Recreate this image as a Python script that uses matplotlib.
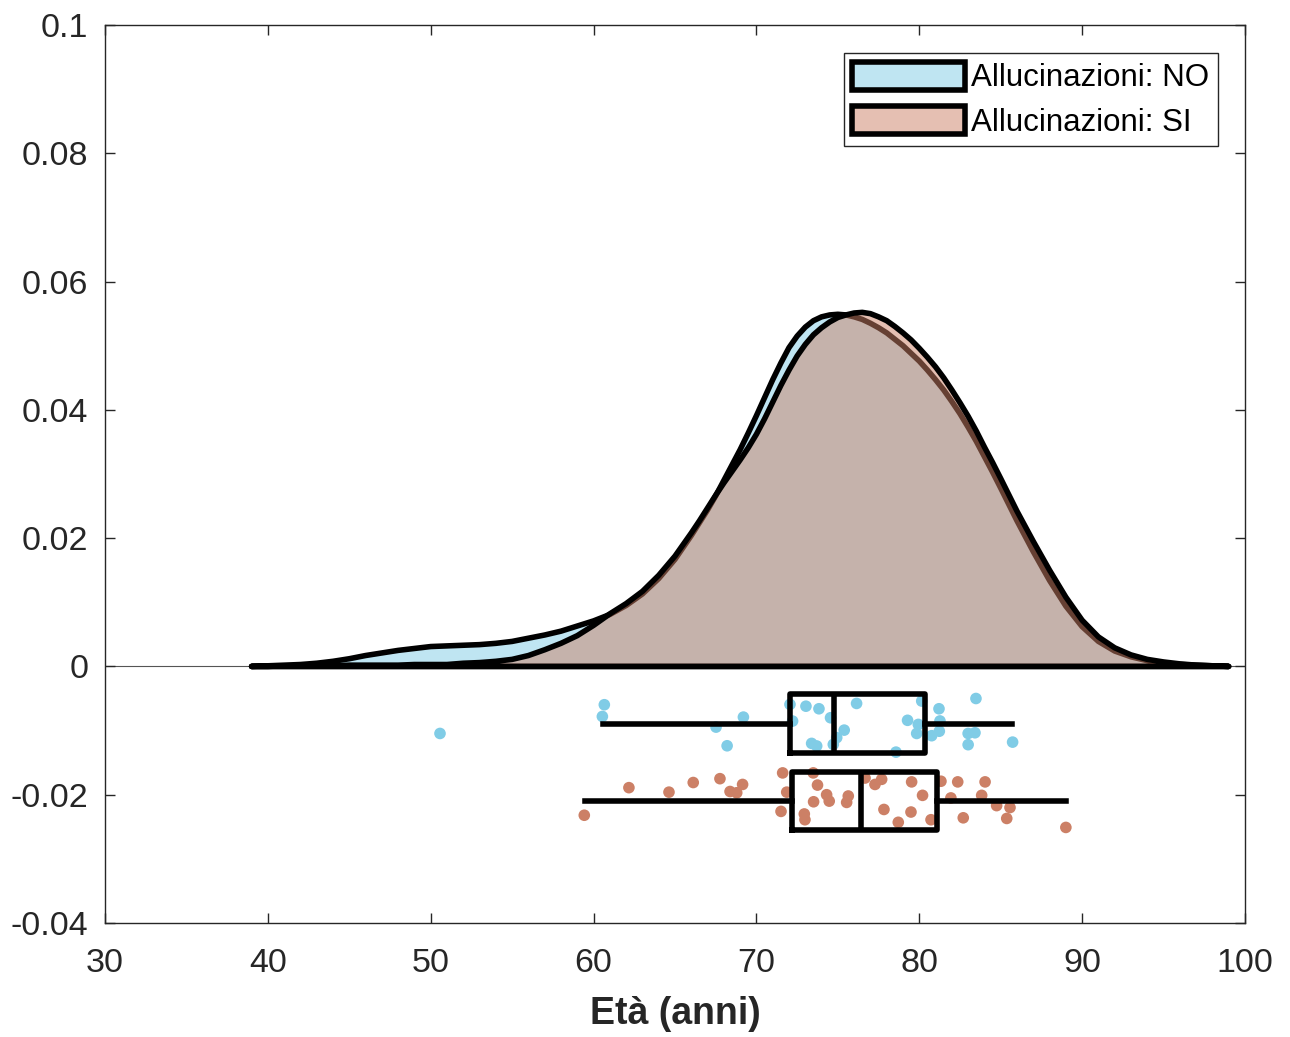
import numpy as np
import matplotlib
matplotlib.use("Agg")
import matplotlib.pyplot as plt

# ---------------- data ----------------
age_grid = [39, 40, 41, 42, 43, 44, 45, 46, 47, 48, 49, 50, 51, 52, 53, 54, 55, 56, 57, 58,
            59, 60, 61, 62, 63, 64, 65, 66,
            66.5, 67, 67.5, 68, 68.5, 69, 69.5, 70, 70.5, 71, 71.5, 72, 72.5, 73, 73.5, 74,
            74.5, 75, 75.5, 76, 76.5, 77, 77.5, 78, 78.5, 79, 79.5, 80, 80.5, 81, 81.5, 82,
            82.5, 83, 83.5, 84, 84.5, 85,
            86, 87, 88, 89, 90, 91, 92, 93, 94, 95, 96, 97, 98, 99]
dens_no = [0.0000, 0.0001, 0.0002, 0.0003, 0.0005, 0.0008, 0.0012, 0.0017, 0.0021, 0.0025,
           0.0028, 0.0031, 0.0032, 0.0033, 0.0034, 0.0036, 0.0039, 0.0044, 0.0049, 0.0055,
           0.0063, 0.0071, 0.0081, 0.0095, 0.0113, 0.0137, 0.0167, 0.0204,
           0.0224, 0.0244, 0.0266, 0.0290, 0.0314, 0.0338, 0.0364, 0.0391, 0.0419, 0.0447,
           0.0473, 0.0497, 0.0515, 0.0529, 0.0539, 0.0545, 0.0548, 0.0549, 0.0548, 0.0545,
           0.0541, 0.0535, 0.0528, 0.0520, 0.0510, 0.0500, 0.0488, 0.0476, 0.0462, 0.0447,
           0.0431, 0.0413, 0.0394, 0.0373, 0.0351, 0.0327, 0.0303, 0.0278,
           0.0227, 0.0179, 0.0134, 0.0094, 0.0062, 0.0039, 0.0024, 0.0015, 0.0009, 0.0005,
           0.0003, 0.0002, 0.0001, 0.0000]
dens_si = [0.0000, 0.0000, 0.0001, 0.0001, 0.0001, 0.0001, 0.0002, 0.0002, 0.0002, 0.0002,
           0.0003, 0.0003, 0.0003, 0.0005, 0.0006, 0.0008, 0.0011, 0.0017, 0.0026, 0.0036,
           0.0048, 0.0064, 0.0082, 0.0098, 0.0117, 0.0142, 0.0172, 0.0208,
           0.0227, 0.0247, 0.0267, 0.0286, 0.0304, 0.0322, 0.0341, 0.0362, 0.0386, 0.0412,
           0.0438, 0.0462, 0.0484, 0.0502, 0.0517, 0.0528, 0.0537, 0.0544, 0.0548, 0.0551,
           0.0552, 0.0550, 0.0545, 0.0539, 0.0530, 0.0520, 0.0509, 0.0496, 0.0482, 0.0467,
           0.0450, 0.0431, 0.0411, 0.0390, 0.0367, 0.0342, 0.0318, 0.0293,
           0.0242, 0.0195, 0.0150, 0.0108, 0.0072, 0.0046, 0.0029, 0.0018, 0.0011, 0.0007,
           0.0004, 0.0002, 0.0001, 0.0000]

no_age = [50.57, 60.66, 60.54, 67.52, 69.20, 68.20, 72.06, 73.04, 73.84, 76.15, 72.22, 74.55,
          75.39, 74.93, 73.39, 73.70, 74.72, 78.57, 79.28, 79.94, 79.84, 80.15, 81.21, 81.27,
          81.23, 80.76, 83.48, 83.00, 83.42, 83.00, 85.73]
no_jit = [-0.01045, -0.00597, -0.00780, -0.00946, -0.00790, -0.01237, -0.00592, -0.00620,
          -0.00660, -0.00577, -0.00852, -0.00800, -0.00993, -0.01110, -0.01200, -0.01240,
          -0.01216, -0.01336, -0.00840, -0.00904, -0.01045, -0.00540, -0.00660, -0.00850,
          -0.01010, -0.01080, -0.00500, -0.01045, -0.01034, -0.01220, -0.01180]

si_age = [59.43, 62.17, 64.63, 66.12, 67.76, 68.38, 68.79, 69.15, 71.61, 71.86, 71.51, 73.75,
          73.51, 72.94, 72.98, 73.49, 74.31, 74.47, 75.64, 75.54, 76.67, 77.28, 77.69, 79.53,
          80.20, 77.83, 79.49, 78.71, 80.72, 81.33, 82.36, 81.94, 84.04, 83.83, 84.75, 85.57,
          82.70, 85.37, 89.00]
si_jit = [-0.0232, -0.0189, -0.0196, -0.0181, -0.0175, -0.0195, -0.0197, -0.0184, -0.0166,
          -0.0196, -0.0226, -0.0185, -0.0211, -0.0230, -0.0239, -0.0166, -0.0200, -0.0210,
          -0.0202, -0.0212, -0.0174, -0.0184, -0.0176, -0.0180, -0.0201, -0.0223, -0.0227,
          -0.0243, -0.0239, -0.0179, -0.0180, -0.0205, -0.0180, -0.0201, -0.0217, -0.0220,
          -0.0236, -0.0237, -0.0251]

# box statistics: whisker low, q1, median, q3, whisker high
box_no = [60.6, 72.06, 74.76, 80.35, 85.7]
box_si = [59.5, 72.2, 76.4, 81.1, 89.0]
box_pos = [-0.0089, -0.0210]

labels = ["Allucinazioni: NO", "Allucinazioni: SI"]
xticks = [30, 40, 50, 60, 70, 80, 90, 100]
yticks = [-0.04, -0.02, 0, 0.02, 0.04, 0.06, 0.08, 0.1]
yticklabels = ["-0.04", "-0.02", "0", "0.02", "0.04", "0.06", "0.08", "0.1"]

# ---------------- style ----------------
plt.rcParams['font.family'] = ['Liberation Sans', 'DejaVu Sans']
c_no = (0.5, 0.8, 0.9)
c_si = (0.8, 0.5, 0.4)
dark = '#262626'
LW = 4.0

fig = plt.figure(figsize=(12.9, 10.37), dpi=100)
ax = fig.add_axes([105 / 1290, 1 - 923 / 1037, 1140 / 1290, 898 / 1037])

ax.axhline(0, color='#555555', lw=0.8, zorder=1)

p_no = ax.fill(age_grid, dens_no, facecolor=c_no + (0.5,), edgecolor='black',
               lw=LW, joinstyle='round', zorder=2, label=labels[0])[0]
p_si = ax.fill(age_grid, dens_si, facecolor=c_si + (0.5,), edgecolor='black',
               lw=LW, joinstyle='round', zorder=3, label=labels[1])[0]

ax.scatter(no_age, no_jit, s=70, color=c_no, edgecolors='none', zorder=4)
ax.scatter(si_age, si_jit, s=70, color=c_si, edgecolors='none', zorder=4)

stats = []
for b in (box_no, box_si):
    stats.append(dict(whislo=b[0], q1=b[1], med=b[2], q3=b[3], whishi=b[4], fliers=[]))
kw = dict(positions=box_pos, widths=0.0091, showcaps=False, showfliers=False,
          patch_artist=False,
          boxprops=dict(color='black', lw=LW),
          whiskerprops=dict(color='black', lw=LW),
          medianprops=dict(color='black', lw=LW),
          manage_ticks=False, zorder=5)
try:
    ax.bxp(stats, orientation='horizontal', **kw)
except TypeError:
    ax.bxp(stats, vert=False, **kw)

ax.set_xlim(30, 100)
ax.set_ylim(-0.04, 0.1)
ax.set_xticks(xticks)
ax.set_xticklabels([str(t) for t in xticks])
ax.set_yticks(yticks)
ax.set_yticklabels(yticklabels)

ax.tick_params(direction='in', length=7, width=1.0, colors=dark, labelsize=24.5,
               top=True, right=True)
ax.tick_params(axis='x', pad=18)
ax.tick_params(axis='y', pad=12)
for s in ax.spines.values():
    s.set_color(dark)
    s.set_linewidth(1.0)

ax.set_xlabel("Età (anni)", fontsize=27, fontweight='bold', color=dark, labelpad=12)

leg = ax.legend(handles=[p_no, p_si], loc='upper right',
                bbox_to_anchor=((1218 - 105) / 1140, (923 - 53) / 898),
                borderaxespad=0, fontsize=22.5, handlelength=3.6, handleheight=1.0,
                handletextpad=0.2, labelspacing=0.4, borderpad=0.28,
                fancybox=False, framealpha=1)
leg.get_frame().set_edgecolor(dark)
leg.get_frame().set_linewidth(1.0)

fig.savefig("out.png", dpi=100)
